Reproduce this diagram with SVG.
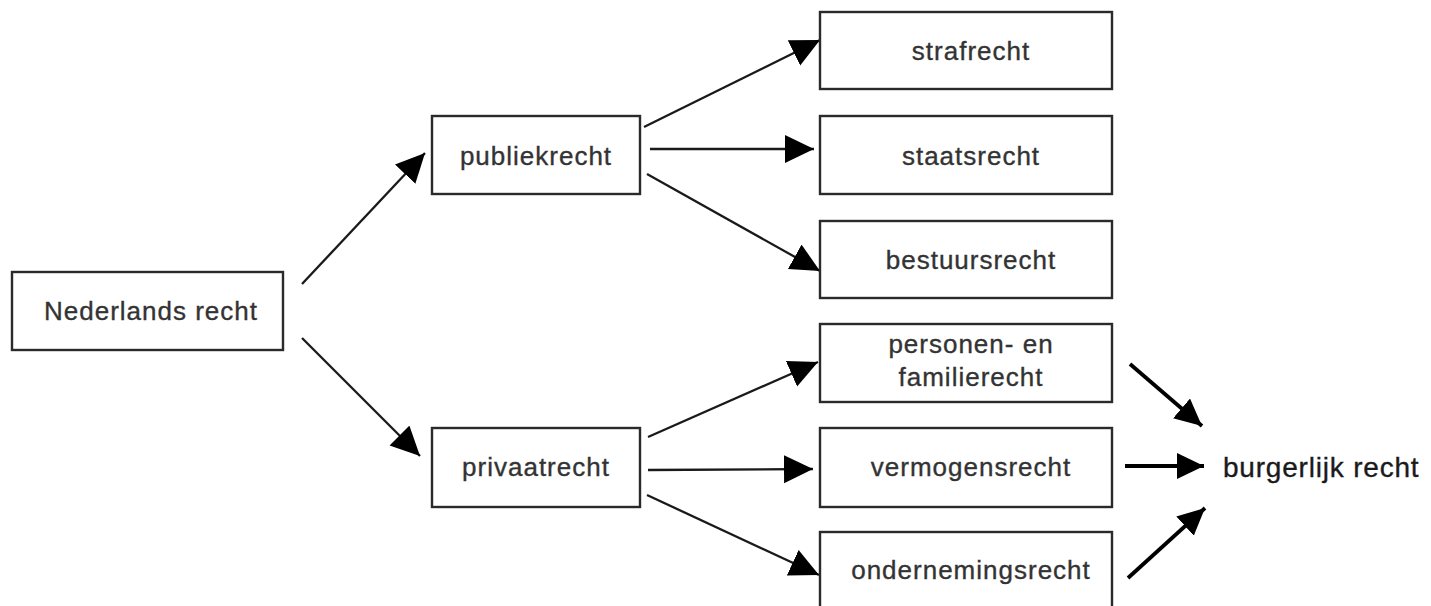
<svg xmlns="http://www.w3.org/2000/svg" width="1431" height="606" viewBox="0 0 1431 606">
<style>
.box{fill:#fff;stroke:#2a2a2a;stroke-width:2.4}
.t{font-family:"Liberation Sans",Arial,sans-serif;font-size:26px;letter-spacing:1px;fill:#333;stroke:#333;stroke-width:0.35;text-anchor:middle}
.b{font-family:"Liberation Sans",Arial,sans-serif;font-size:28px;letter-spacing:0.8px;fill:#1a1a1a;stroke:#1a1a1a;stroke-width:0.35}
.c{stroke:#1a1a1a;stroke-width:2.3;fill:none;marker-end:url(#ah)}
.c2{stroke:#000;stroke-width:3.8;fill:none;marker-end:url(#ah2)}
</style>
<defs>
<marker id="ah" markerUnits="userSpaceOnUse" markerWidth="32" markerHeight="30" refX="29" refY="14" orient="auto">
<path d="M0,0 L29,14 L0,28 z" fill="#000"/>
</marker>
<marker id="ah2" markerUnits="userSpaceOnUse" markerWidth="30" markerHeight="28" refX="27" refY="13" orient="auto">
<path d="M0,0 L27,13 L0,26 z" fill="#000"/>
</marker>
</defs>
<rect width="1431" height="606" fill="#fff"/>
<g id="connectors">
<line class="c" x1="302" y1="284" x2="425" y2="153"/>
<line class="c" x1="302" y1="338" x2="420" y2="456"/>
<line class="c" x1="644" y1="127" x2="820" y2="40"/>
<line class="c" x1="650" y1="149" x2="814" y2="149"/>
<line class="c" x1="647" y1="174" x2="820" y2="271"/>
<line class="c" x1="648" y1="437" x2="818" y2="362"/>
<line class="c" x1="648" y1="470" x2="813" y2="469"/>
<line class="c" x1="647" y1="495" x2="819" y2="575"/>
<line class="c2" x1="1130" y1="364" x2="1202" y2="426"/>
<line class="c2" x1="1125" y1="466" x2="1204" y2="466"/>
<line class="c2" x1="1128" y1="578" x2="1205" y2="508"/>
</g>
<g id="nederlands"><rect class="box" x="12" y="272" width="271" height="78"/><text class="t" x="151" y="320">Nederlands recht</text></g>
<g id="publiekrecht"><rect class="box" x="432" y="116" width="208" height="78"/><text class="t" x="536" y="165">publiekrecht</text></g>
<g id="privaatrecht"><rect class="box" x="432" y="428" width="208" height="79"/><text class="t" x="536" y="476">privaatrecht</text></g>
<g id="strafrecht"><rect class="box" x="820" y="12" width="292" height="77"/><text class="t" x="971" y="60">strafrecht</text></g>
<g id="staatsrecht"><rect class="box" x="820" y="116" width="292" height="78"/><text class="t" x="971" y="165">staatsrecht</text></g>
<g id="bestuursrecht"><rect class="box" x="820" y="221" width="292" height="77"/><text class="t" x="971" y="269">bestuursrecht</text></g>
<g id="personen"><rect class="box" x="820" y="324" width="292" height="78"/><text class="t" x="971" y="353">personen- en</text><text class="t" x="971" y="386">familierecht</text></g>
<g id="vermogensrecht"><rect class="box" x="820" y="428" width="292" height="79"/><text class="t" x="971" y="476">vermogensrecht</text></g>
<g id="ondernemingsrecht"><rect class="box" x="820" y="532" width="292" height="90"/><text class="t" x="971" y="579">ondernemingsrecht</text></g>
<g id="burgerlijk"><text class="b" x="1223" y="477">burgerlijk recht</text></g>
</svg>
